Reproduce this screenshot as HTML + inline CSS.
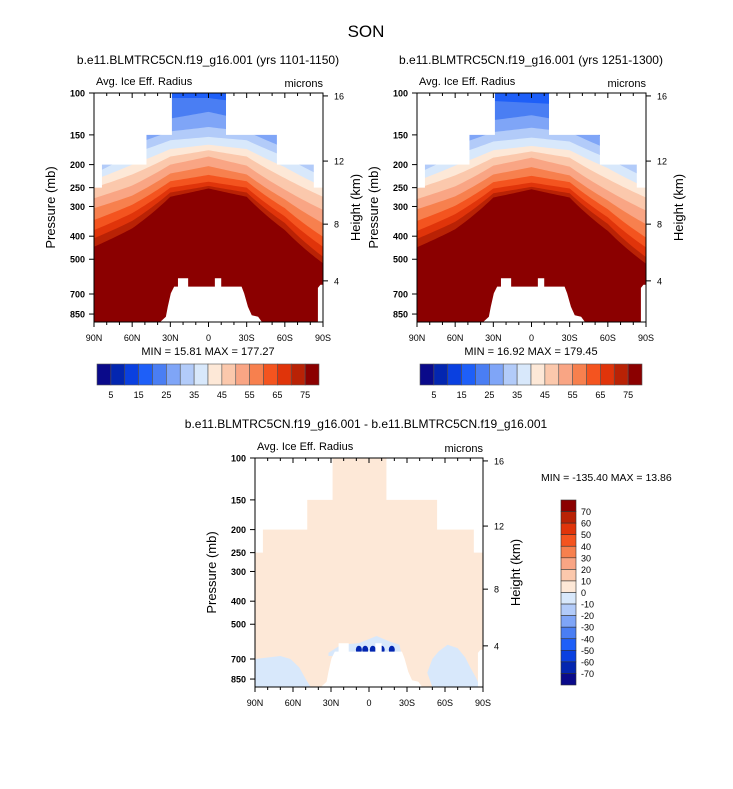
<!DOCTYPE html>
<html><head><meta charset="utf-8"><style>
body{margin:0;background:#fff;}
svg text{font-family:"Liberation Sans",sans-serif;}
</style></head><body>
<svg id="fig" width="733" height="784" xmlns="http://www.w3.org/2000/svg">
<text x="366" y="37" font-size="17" text-anchor="middle">SON</text>
</svg>
<script>
// ---- data ----
const lats = [90, 60, 30, 0, -30, -60, -90];
const thresholds = [20, 25, 30, 35, 40, 45, 50, 55, 60, 65, 70, 75];
// pressure (hPa) where field crosses each threshold, panel 1
const p1b20 = [160, 130, 105, 105, 110, 140, 175];
const p1b25 = [180, 150, 128, 120, 130, 155, 190];
const p1b30 = [200, 165, 145, 139, 145, 170, 205];
const p1b35 = [218, 180, 158, 153, 158, 185, 225];
const p1b40 = [232, 200, 172, 165, 172, 205, 248];
const p1b45 = [250, 220, 185, 174, 185, 228, 273];
const p1b50 = [277, 245, 200, 185, 202, 255, 310];
const p1b55 = [305, 270, 218, 203, 220, 280, 353];
const p1b60 = [342, 295, 235, 221, 235, 305, 402];
const p1b65 = [377, 320, 250, 236, 250, 330, 443];
const p1b70 = [408, 345, 262, 246, 262, 352, 488];
const p1b75 = [443, 371, 273, 252, 273, 377, 520];
// panel 2
const p2b20 = [160, 130, 108, 110, 112, 140, 175];
const p2b25 = [180, 150, 130, 124, 132, 156, 192];
const p2b30 = [200, 166, 146, 140, 146, 172, 207];
const p2b35 = [218, 182, 160, 154, 160, 188, 227];
const p2b40 = [234, 202, 174, 167, 174, 207, 250];
const p2b45 = [252, 222, 187, 176, 187, 230, 275];
const p2b50 = [279, 247, 202, 187, 204, 257, 312];
const p2b55 = [308, 272, 220, 205, 222, 283, 356];
const p2b60 = [345, 298, 237, 223, 237, 308, 405];
const p2b65 = [380, 323, 252, 238, 252, 333, 446];
const p2b70 = [410, 348, 264, 248, 264, 355, 490];
const p2b75 = [445, 374, 275, 254, 275, 380, 522];
// data-domain top (masked above)
const topLatEdges = [90, 84, 49, 29, -14, -54, -83, -90];
const topP = [250, 200, 150, 100, 150, 200, 250];
// terrain (masked below) outline
const terrLat = [38, 33.5, 32, 29.6, 27, 24, 24, 16, 16, -5, -5, -10, -10, -26, -28, -31, -34, -39, -42];
const terrP = [918, 872, 792, 695, 652, 652, 601, 601, 652, 652, 601, 601, 652, 652, 695, 792, 860, 872, 918];
const spLat = [-86, -86, -88, -90, -90];
const spP = [918, 660, 640, 640, 918];
// colorbar
const cbLabels1 = [5, 15, 25, 35, 45, 55, 65, 75];
const diffLabels = [70, 60, 50, 40, 30, 20, 10, 0, -10, -20, -30, -40, -50, -60, -70];
const presTicks = [100, 150, 200, 250, 300, 400, 500, 700, 850];
const heightTicks = [4, 8, 12, 16];
const latTicks = [90, 60, 30, 0, -30, -60, -90];
const latNames = ["90N", "60N", "30N", "0", "30S", "60S", "90S"];
// diff-panel negative patches (lat, p)
const neg1Lat = [90, 80, 70, 62, 55, 50, 46, 90];
const neg1P = [700, 690, 680, 700, 760, 850, 918, 918];
const neg2Lat = [-55, -62, -70, -76, -80, -84, -88, -50, -46, -50];
const neg2P = [650, 610, 630, 690, 760, 830, 918, 918, 800, 700];
const neg3Lat = [32, 22, 8, -6, -16, -24, -26, 32];
const neg3P = [660, 610, 600, 560, 590, 610, 680, 680];
const blobLat = [-3, 3, 8, -10, -18];
const blobP = [640, 640, 640, 640, 640];

const pal = ["#0a0a8a","#0326b0","#0a40e0","#1e5ff8","#4a7ef3","#7fa5f7","#b2cbf9","#d8e8fb","#fde8d7","#fbc8ac","#f9a584","#f7804e","#f4541f","#e0340a","#b92205","#8b0000"];
const PB = 918;
const NS = "http://www.w3.org/2000/svg";
const svg = document.getElementById('fig');
function el(t, a, parent) { const e = document.createElementNS(NS, t); for (const k in a) e.setAttribute(k, a[k]); (parent || svg).appendChild(e); return e; }
function txt(s, a, parent) { const e = el('text', a, parent); e.textContent = s; return e; }
function interp(lat, arr) {
  for (let i = 0; i < lats.length - 1; i++) {
    if (lat <= lats[i] && lat >= lats[i + 1]) { const t = (lats[i] - lat) / (lats[i] - lats[i + 1]); return arr[i] + t * (arr[i + 1] - arr[i]); }
  }
  return arr[arr.length - 1];
}
function zToP(z) { return z <= 11 ? 1013.25 * Math.pow(1 - 0.0065 * z * 1000 / 288.15, 5.2559) : 226.32 * Math.exp(-(z - 11) / 6.3416); }

function panel(ox, oy, w, h, name, bounds, base, diff) {
  const g = el('g', {}, svg);
  
  
  const xOf = lat => ox + (90 - lat) / 180 * w;
  const yOf = p => oy + Math.log(p / 100) / Math.log(PB / 100) * h;
  const cid = 'clip' + name;
  const cp = el('clipPath', { id: cid }, g); el('rect', { x: ox, y: oy, width: w, height: h }, cp);
  const plot = el('g', { 'clip-path': 'url(#' + cid + ')' }, g);
  el('rect', { x: ox, y: oy, width: w, height: h, fill: pal[base] }, plot);
  if (!diff) {
    bounds.forEach((b, k) => {
      let pts = [];
      for (let lat = 90; lat >= -90; lat -= 2) pts.push(xOf(lat) + ',' + yOf(interp(lat, b)));
      pts.push(xOf(-90) + ',' + yOf(PB)); pts.push(xOf(90) + ',' + yOf(PB));
      const poly = el('polygon', { points: pts.join(' '), fill: pal[base + 1 + k] }, plot);
      
      
    });
  } else {
    [[neg1Lat, neg1P], [neg2Lat, neg2P], [neg3Lat, neg3P]].forEach(([la, pp], i) => {
      const poly = el('polygon', { points: la.map((l, j) => xOf(l) + ',' + yOf(pp[j])).join(' '), fill: pal[7] }, plot);
      
      
    });
    blobLat.forEach((l, i) => {
      const e = el('ellipse', { cx: xOf(l), cy: yOf(blobP[i]), rx: 3, ry: 4, fill: pal[1] }, plot);
      
      
    });
  }
  // masks
  for (let i = 0; i < topP.length; i++) {
    const x1 = xOf(topLatEdges[i]), x2 = xOf(topLatEdges[i + 1]);
    el('rect', { x: x1 - 0.3, y: oy, width: x2 - x1 + 0.6, height: yOf(topP[i]) - oy, fill: '#fff' }, plot);
  }
  const tm = el('polygon', { points: terrLat.map((l, j) => xOf(l) + ',' + yOf(terrP[j])).join(' '), fill: '#fff' }, plot);
  
  
  el('polygon', { points: spLat.map((l, j) => xOf(l) + ',' + yOf(spP[j])).join(' '), fill: '#fff' }, plot);
  // frame
  el('rect', { x: ox, y: oy, width: w, height: h, fill: 'none', stroke: '#000', 'stroke-width': 1 }, g);
  presTicks.forEach(p => {
    const y = yOf(p);
    el('line', { x1: ox - 5, y1: y, x2: ox, y2: y, stroke: '#000' }, g);
    const t = txt(p, { x: ox - 9, y: y + 3.5, 'font-size': 9, 'text-anchor': 'end', 'font-weight': 'bold' }, g);
    
    
  });
  heightTicks.forEach(z => {
    const y = yOf(zToP(z));
    el('line', { x1: ox + w, y1: y, x2: ox + w + 5, y2: y, stroke: '#000' }, g);
    const t = txt(z, { x: ox + w + 11, y: y + 3.5, 'font-size': 9 }, g);
    
    
  });
  for (let lat = 90; lat >= -90; lat -= 10) {
    const x = xOf(lat), major = lat % 30 === 0;
    el('line', { x1: x, y1: oy, x2: x, y2: oy + (major ? 5 : 3), stroke: '#000' }, g);
    el('line', { x1: x, y1: oy + h, x2: x, y2: oy + h + (major ? 5 : 3), stroke: '#000' }, g);
  }
  latTicks.forEach((l, i) => {
    const t = txt(latNames[i], { x: xOf(l), y: oy + h + 19, 'font-size': 9, 'text-anchor': 'middle' }, g);
    
    
  });
  const yl = txt('Pressure (mb)', { x: 0, y: 0, 'font-size': 13, 'text-anchor': 'middle', transform: `translate(${ox - 39},${oy + h / 2}) rotate(-90)` }, g);
  
  
  const yr = txt('Height (km)', { x: 0, y: 0, 'font-size': 13, 'text-anchor': 'middle', transform: `translate(${ox + w + 37},${oy + h / 2}) rotate(-90)` }, g);
  
  
  const vl = txt('Avg. Ice Eff. Radius', { x: ox + 2, y: oy - 8, 'font-size': 11 }, g);
  
  
  const ul = txt('microns', { x: ox + w, y: oy - 6, 'font-size': 11, 'text-anchor': 'end' }, g);
  
  
}

function hbar(x, y, w, h, name) {
  const g = el('g', {}, svg);
  
  
  const bw = w / pal.length;
  pal.forEach((c, i) => el('rect', { x: x + i * bw, y: y, width: bw, height: h, fill: c, stroke: '#555', 'stroke-width': 0.6 }, g));
  cbLabels1.forEach(v => {
    const t = txt(v, { x: x + (v / 5) * bw, y: y + h + 13, 'font-size': 9, 'text-anchor': 'middle' }, g);
    
    
  });
}

panel(94, 93, 229, 229, 'panel-1101-1150', [p1b20,p1b25,p1b30,p1b35,p1b40,p1b45,p1b50,p1b55,p1b60,p1b65,p1b70,p1b75], 3, false);
panel(417, 93, 229, 229, 'panel-1251-1300', [p2b20,p2b25,p2b30,p2b35,p2b40,p2b45,p2b50,p2b55,p2b60,p2b65,p2b70,p2b75], 3, false);
panel(255, 458, 228, 229, 'panel-difference', [], 8, true);

hbar(97, 364, 222, 21, 'colorbar-left');
hbar(420, 364, 222, 21, 'colorbar-right');

// vertical diff colorbar
(function () {
  const g = el('g', {}, svg);
  
  
  const x = 561, y = 500, w = 15, h = 185, bh = h / 16;
  for (let i = 0; i < 16; i++) el('rect', { x: x, y: y + i * bh, width: w, height: bh, fill: pal[15 - i], stroke: '#333', 'stroke-width': 0.6 }, g);
  diffLabels.forEach((v, i) => {
    const t = txt(v, { x: x + w + 5, y: y + (i + 1) * bh + 3.5, 'font-size': 9 }, g);
    
    
  });
})();

const labels = [
  ['b.e11.BLMTRC5CN.f19_g16.001 (yrs 1101-1150)', 208, 64, 12, 'middle', 'panel-1-title'],
  ['b.e11.BLMTRC5CN.f19_g16.001 (yrs 1251-1300)', 531, 64, 12, 'middle', 'panel-2-title'],
  ['MIN =  15.81   MAX = 177.27', 208, 355, 11, 'middle', 'panel-1-minmax'],
  ['MIN =  16.92   MAX = 179.45', 531, 355, 11, 'middle', 'panel-2-minmax'],
  ['b.e11.BLMTRC5CN.f19_g16.001 - b.e11.BLMTRC5CN.f19_g16.001', 366, 428, 12, 'middle', 'difference-title'],
  ['MIN = -135.40  MAX =  13.86', 541, 481, 10.5, 'start', 'difference-minmax']
];
labels.forEach(([s, x, y, fs, a, n]) => {
  const t = txt(s, { x: x, y: y, 'font-size': fs, 'text-anchor': a });
  
  
});
</script>
</body></html>
